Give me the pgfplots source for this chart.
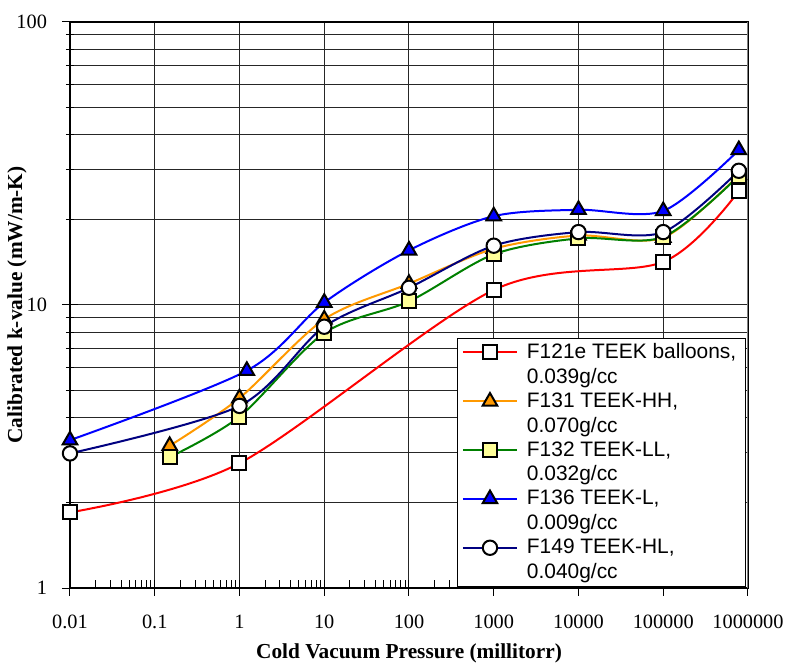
\documentclass[border=0pt]{standalone}
\usepackage{fontspec}
\setmainfont{Liberation Serif}
\newfontfamily\arial{Liberation Sans}
\usepackage{pgfplots}
\pgfplotsset{compat=1.18}

\definecolor{xlred}{HTML}{FF0000}
\definecolor{xlorange}{HTML}{FF9900}
\definecolor{xlgreen}{HTML}{008000}
\definecolor{xlblue}{HTML}{0000FF}
\definecolor{xlnavy}{HTML}{000080}
\definecolor{xlyellow}{HTML}{FFFF99}

\begin{document}
\begin{tikzpicture}
\begin{axis}[
  name=ax,
  xmode=log, ymode=log,
  scale only axis,
  width=339bp, height=283bp,
  xmin=0.01, xmax=1000000, ymin=1, ymax=100,
  xtick={0.01,0.1,1,10,100,1000,10000,100000,1000000},
  xticklabels={0.01,0.1,1,10,100,1000,10000,100000,1000000},
  ytick={1,10,100}, yticklabels={1,10,100},
  tick pos=left,
  tick align=center,
  major tick length=8bp, minor tick length=4bp,
  minor x tick style={yshift=2bp},
  xmajorgrids, ymajorgrids, yminorgrids,
  grid style={black!85, line width=0.5bp},
  minor grid style={black!85, line width=0.5bp},
  axis line style={black, line width=0.6bp},
  tick style={black, line width=0.5bp},
  xticklabel style={font=\fontsize{10.2}{12}\selectfont, anchor=center, yshift=-13bp},
  yticklabel style={font=\fontsize{10.2}{12}\selectfont, xshift=-4bp},
  xlabel={\textbf{Cold Vacuum Pressure (millitorr)}},
  ylabel={\textbf{Calibrated k-value (mW/m-K)}},
  xlabel style={font=\fontsize{10.7}{12}\selectfont, at={(axis description cs:0.5,-0.116)}, anchor=center},
  ylabel style={font=\fontsize{10.7}{12}\selectfont, at={(axis description cs:-0.078,0.5)}, anchor=center},
  legend cell align=left,
  legend image code/.code={\draw[mark repeat=2,mark phase=2,#1] plot coordinates {(0bp,6.2bp) (13.5bp,6.2bp) (27bp,6.2bp)};},
  legend style={at={(rel axis cs:0.9966,0.0023)}, anchor=south east,
    font=\arial\fontsize{10.5}{12.4}\selectfont, draw=black,
    inner xsep=2.5bp, inner ysep=0.5bp, row sep=-0.75bp, column sep=2.5bp,
    cells={align=left, inner ysep=0pt, inner xsep=0pt}},
  every axis plot/.append style={smooth, line width=1bp},
]
\addplot[xlred, mark=square*, mark size=3.5bp, mark options={draw=black, fill=white, line width=1bp}]
  coordinates {(0.01,1.85) (1,2.76) (1000,11.3) (100000,14.2) (780000,25.3)};
\addlegendentry{F121e TEEK balloons,\\0.039g/cc}
\addplot[xlorange, mark=triangle*, mark size=4.2bp, mark options={draw=black, fill=xlorange, line width=1bp}]
  coordinates {(0.15,3.18) (1,4.69) (10,8.9) (100,11.9) (1000,15.8) (10000,17.6) (100000,17.3) (780000,28.8)};
\addlegendentry{F131 TEEK-HH,\\0.070g/cc}
\addplot[xlgreen, mark=square*, mark size=3.5bp, mark options={draw=black, fill=xlyellow, line width=1bp}]
  coordinates {(0.15,2.90) (1,4.03) (10,7.96) (100,10.3) (1000,15.1) (10000,17.2) (100000,17.4) (780000,28.6)};
\addlegendentry{F132 TEEK-LL,\\0.032g/cc}
\addplot[xlblue, mark=triangle*, mark size=4.2bp, mark options={draw=black, fill=xlblue, line width=1bp}]
  coordinates {(0.01,3.33) (1.22,5.86) (10,10.2) (100,15.6) (1000,20.6) (10000,21.7) (100000,21.5) (780000,35.3)};
\addlegendentry{F136 TEEK-L,\\0.009g/cc}
\addplot[xlnavy, mark=*, mark size=3.6bp, mark options={draw=black, fill=white, line width=1bp}]
  coordinates {(0.01,2.99) (1,4.40) (10,8.38) (100,11.5) (1000,16.2) (10000,18.1) (100000,18.1) (780000,29.8)};
\addlegendentry{F149 TEEK-HL,\\0.040g/cc}
\draw[gray, line width=1bp] (rel axis cs:1,0) -- (rel axis cs:1,1);
\end{axis}
\pgfresetboundingbox
\path ([xshift=-35bp,yshift=-38.5bp]ax.south west) rectangle ([xshift=19bp,yshift=11bp]ax.north east);
\end{tikzpicture}
\end{document}
